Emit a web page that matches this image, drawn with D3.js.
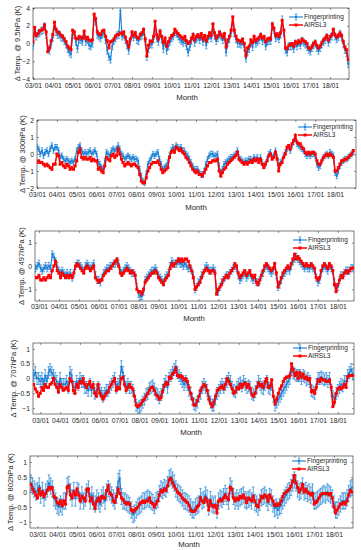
<!DOCTYPE html>
<html>
<head>
<meta charset="utf-8">
<script src="https://cdn.jsdelivr.net/npm/d3@7"></script>
<style>
  body { margin: 0; background: #fff; }
  svg { display: block; font-family: "Liberation Sans", Arial, sans-serif; }
</style>
</head>
<body>
<svg id="chart" width="361" height="550"></svg>
<script>
'use strict';

/**
 * Monthly temperature anomalies (K).
 * fp* = Fingerprinting (blue, error bars), airs* = AIRSL3 (red)
 */
const fp95 = [
  -0.3, 1.5, 0.8, 1.1, 1.2, 1.4, 1.5, 1.9, 1.0, -0.6, -0.8, -0.1,
  0.7, 2.0, 1.3, 1.0, 1.0, 0.7, 0.6, 0.3, -0.1, -0.6, -1.0, -1.2,
  1.0, 1.0, 0.2, -0.6, 0.5, 0.4, 0.2, 1.0, 0.2, 0.4, -0.2, -0.3,
  0.0, 3.0, 2.5, 1.0, 0.8, 0.6, 1.0, 1.2, 0.4, -0.8, -1.5, -1.8,
  -0.3, 0.3, 0.6, 0.9, 1.0, 3.7, 0.8, 1.0, 0.4, -0.2, -0.8, 0.2,
  1.0, 0.7, 1.0, 0.4, 0.3, 0.8, 0.9, 1.3, 0.2, -1.5, -0.6, -0.1,
  -0.1, 0.5, 2.1, 0.6, 0.2, 1.2, 0.5, -0.6, 0.3, -0.8, -0.3, 0.2,
  0.6, 0.8, 1.3, 1.1, 0.8, 0.5, 0.3, 0.1, 0.4, -0.3, -1.0, -0.4,
  0.3, 0.8, 0.1, 0.5, 0.7, 0.4, 0.8, 0.2, 0.6, -0.2, 0.5, 0.9,
  0.6, 1.9, 0.9, 0.3, 0.6, 1.0, 0.8, 0.4, 0.8, -1.0, 0.1, 0.5,
  1.2, 2.6, 1.2, 0.5, 0.0, 0.0, -0.1, 0.2, -0.4, -1.7, -0.9, -0.6,
  0.1, -0.4, 0.5, 0.0, 0.2, 0.4, 0.8, 0.3, 0.5, -0.3, 0.2, 0.3,
  0.3, 2.0, 1.5, 0.6, 0.8, 0.5, 1.0, 2.7, 1.2, -0.7, -1.0, -0.3,
  -0.3, -0.3, -0.6, 0.0, -0.3, 0.1, -0.2, 0.3, 0.1, -0.1, -0.4, -0.7,
  -0.9, -0.5, -0.2, 0.0, -0.5, -0.8, -0.5, -0.1, 0.2, 0.4, 0.7, 0.1,
  0.5, 0.8, 1.3, 0.8, 0.5, 0.7, 1.1, 0.7, 0.0, -0.7, -1.1, -2.3
];
const airs95 = [
  0.2, 1.8, 0.9, 1.1, 1.4, 1.5, 1.6, 2.1, 1.3, -0.9, -0.5, 0.3,
  1.0, 2.4, 1.6, 1.3, 1.2, 0.9, 0.8, 0.5, 0.2, -0.3, -0.5, -0.7,
  1.5, 1.3, 0.6, 0.5, 0.8, 0.7, 0.6, 1.4, 0.5, 0.7, 0.4, 0.3,
  0.4, 3.3, 2.8, 1.3, 1.1, 1.0, 1.4, 1.5, 0.8, 0.3, -0.5, 0.2,
  0.3, 0.5, 0.8, 1.0, 1.0, 1.2, 1.1, 1.3, 0.7, 0.2, -0.4, 0.5,
  1.3, 0.9, 1.2, 0.7, 0.6, 1.0, 1.2, 1.6, 0.5, -1.4, -0.2, 0.3,
  0.2, 0.8, 2.5, 1.0, 0.5, 1.4, 0.8, 0.1, 0.6, -0.3, 0.2, 0.6,
  0.9, 1.0, 1.6, 1.3, 1.1, 0.9, 0.7, 0.5, 0.8, 0.3, 0.0, 0.2,
  0.6, 1.0, 0.4, 0.8, 1.0, 0.7, 1.1, 0.5, 0.9, 0.3, 0.8, 1.2,
  0.9, 2.2, 1.2, 0.6, 0.9, 1.3, 1.0, 0.7, 1.1, -0.4, 0.4, 0.8,
  1.5, 3.0, 1.5, 0.8, 0.4, 0.3, 0.2, 0.5, 0.0, -1.4, -0.5, -0.3,
  0.4, 0.1, 0.8, 0.3, 0.5, 0.7, 1.0, 0.6, 0.8, 0.2, 0.5, 0.6,
  0.5, 2.2, 1.7, 0.9, 1.1, 0.8, 1.2, 2.6, 1.5, -0.5, -0.6, -0.2,
  -0.1, 0.0, -0.3, 0.2, 0.0, 0.3, 0.1, 0.5, 0.3, 0.2, 0.0, -0.5,
  -0.6, -0.3, 0.0, 0.2, -0.2, -0.5, -0.3, 0.1, 0.4, 0.6, 0.9, 0.4,
  0.8, 1.0, 1.6, 1.0, 0.7, 0.9, 1.2, 0.9, 0.2, -0.4, -0.7, -1.8
];

const fp300 = [
  0.4, 0.3, 0.0, 0.2, -0.1, 0.1, 0.2, 0.0, 0.3, 0.5, 0.2, 0.4,
  0.4, 0.2, -0.2, -0.1, -0.3, -0.4, -0.3, -0.4, -0.5, -0.4, -0.5, -0.3,
  0.2, 0.4, 0.5, 0.2, 0.0, 0.1, 0.0, 0.1, 0.2, 0.0, 0.1, 0.2,
  0.0, -0.5, -0.6, -0.8, -0.9, -0.4, 0.1, 0.0, -0.1, 0.2, 0.3, 0.2,
  0.3, 0.5, 0.3, 0.0, -0.1, -0.3, -0.2, -0.1, -0.2, -0.3, -0.2, -0.3,
  -0.3, -0.4, -0.9, -1.3, -1.6, -1.7, -1.2, -0.6, -0.4, -0.2, 0.0, -0.1,
  0.0, 0.1, -0.3, -0.6, -0.9, -0.8, -0.7, -0.5, -0.1, 0.2, 0.4, 0.3,
  0.5, 0.4, 0.3, 0.4, 0.2, 0.2, 0.0, -0.1, -0.3, -0.5, -0.7, -0.9,
  -0.9, -0.9, -1.1, -1.2, -1.2, -1.0, -0.6, -0.3, -0.1, 0.0, 0.0, -0.1,
  -0.1, 0.0, -0.7, -1.1, -0.9, -0.6, -0.5, -0.4, -0.3, -0.2, -0.2, -0.1,
  0.0, 0.2, -0.2, -0.3, -0.4, -0.5, -0.4, -0.4, -0.3, -0.3, -0.4, -0.2,
  -0.3, -0.2, -0.4, -0.2, -0.5, -0.7, -0.6, -0.3, 0.0, 0.1, -0.2, -0.1,
  0.2, -0.2, -0.7, -0.5, -0.4, -0.1, 0.1, 0.3, 0.4, 0.2, 0.5, 0.7,
  0.9, 0.6, 0.5, 0.4, 0.3, 0.2, 0.0, -0.1, 0.0, -0.1, 0.0, 0.0,
  -0.1, -0.6, -0.8, -0.7, -0.4, -0.2, -0.1, 0.0, -0.1, 0.1, 0.0, -0.1,
  -1.1, -1.3, -1.0, -0.7, -0.5, -0.4, -0.3, -0.3, -0.2, -0.1, 0.0, 0.1
];
const airs300 = [
  -0.5, -0.4, -0.5, -0.5, -0.6, -0.7, -0.6, -0.7, -0.8, -0.9, -0.6, -0.6,
  0.0, -0.1, -0.6, -0.5, -0.7, -0.8, -0.6, -0.7, -0.9, -0.8, -0.9, -0.7,
  -0.4, 0.1, 0.3, -0.2, -0.3, -0.2, -0.3, -0.3, -0.2, -0.4, -0.3, -0.4,
  -0.4, -0.9, -0.8, -1.0, -1.1, -0.7, -0.2, -0.3, -0.4, -0.1, 0.0, -0.2,
  -0.1, 0.3, 0.0, -0.3, -0.5, -0.7, -0.6, -0.5, -0.6, -0.7, -0.6, -0.6,
  -0.7, -0.8, -1.2, -1.6, -1.7, -1.7, -1.4, -1.0, -0.8, -0.6, -0.5, -0.5,
  -0.5, -0.4, -0.6, -0.9, -1.1, -1.0, -0.9, -0.8, -0.2, 0.1, 0.2, 0.1,
  0.4, 0.3, 0.2, 0.3, 0.1, 0.0, -0.2, -0.3, -0.5, -0.7, -0.9, -1.0,
  -1.1, -1.0, -1.2, -1.2, -1.3, -1.1, -0.9, -0.7, -0.5, -0.5, -0.4, -0.4,
  -0.4, -0.3, -1.0, -1.3, -1.1, -0.9, -0.8, -0.6, -0.5, -0.4, -0.3, -0.2,
  -0.1, 0.1, -0.3, -0.4, -0.5, -0.6, -0.5, -0.6, -0.5, -0.4, -0.5, -0.3,
  -0.4, -0.3, -0.5, -0.3, -0.6, -0.8, -0.6, -0.4, -0.1, 0.0, -0.3, -0.2,
  0.1, -0.3, -1.0, -0.6, -0.5, -0.2, 0.0, 0.4, 0.5, 0.3, 0.6, 0.8,
  1.1, 0.7, 0.6, 0.6, 0.4, 0.3, 0.1, 0.0, 0.1, 0.0, 0.1, 0.1,
  0.0, -0.4, -0.6, -0.6, -0.4, -0.2, -0.1, 0.0, -0.1, 0.0, -0.1, -0.2,
  -1.0, -1.0, -0.8, -0.6, -0.4, -0.4, -0.3, -0.3, -0.2, -0.1, 0.0, 0.2
];

const fp497 = [
  -0.1, 0.0, 0.1, -0.1, -0.2, -0.1, 0.0, -0.1, 0.0, -0.1, 0.5, 0.4,
  0.2, 0.0, -0.2, -0.3, -0.2, -0.3, -0.4, -0.3, -0.4, -0.3, -0.5, -0.3,
  0.0, 0.1, 0.1, 0.0, -0.1, -0.2, 0.0, 0.1, 0.0, -0.1, 0.0, 0.1,
  -0.4, -0.6, -0.6, -0.7, -0.5, -0.3, -0.2, -0.1, -0.1, 0.0, 0.0, 0.1,
  0.1, 0.2, 0.1, -0.2, -0.3, -0.2, -0.1, 0.0, -0.1, -0.2, -0.3, -0.3,
  -0.4, -0.9, -1.2, -1.3, -1.3, -1.1, -0.6, -0.5, -0.4, -0.3, -0.2, -0.2,
  -0.1, -0.2, -0.4, -0.5, -0.6, -0.7, -0.5, -0.4, -0.3, 0.0, 0.2, 0.1,
  0.1, 0.1, 0.2, 0.1, 0.1, 0.0, 0.1, 0.0, -0.1, -0.1, -0.2, -0.4,
  -1.0, -0.9, -0.7, -0.6, -0.4, -0.3, -0.1, 0.0, -0.1, -0.2, -0.2, -0.1,
  -0.2, -1.1, -1.1, -0.9, -0.7, -0.6, -0.5, -0.4, -0.4, -0.3, -0.2, -0.1,
  0.0, -0.1, -0.4, -0.6, -0.5, -0.4, -0.3, -0.5, -0.4, -0.3, -0.5, -0.6,
  -0.5, -0.7, -0.7, -0.6, -0.4, -0.3, -0.1, 0.0, -0.1, -0.2, -0.3, -0.2,
  0.0, -0.4, -0.9, -0.8, -0.6, -0.4, -0.3, -0.2, -0.1, -0.2, 0.0, 0.2,
  0.3, 0.4, 0.3, 0.2, 0.1, 0.0, -0.1, 0.0, -0.1, -0.1, 0.0, -0.1,
  -0.2, -0.5, -0.7, -0.6, -0.3, -0.1, 0.0, -0.1, -0.2, 0.0, -0.1, -0.2,
  -0.7, -0.9, -0.9, -0.6, -0.4, -0.4, -0.3, -0.2, -0.2, -0.2, -0.1, -0.1
];
const airs497 = [
  -0.5, -0.5, -0.4, -0.6, -0.6, -0.5, -0.6, -0.5, -0.4, -0.5, -0.2, 0.0,
  0.2, -0.2, -0.3, -0.5, -0.3, -0.4, -0.5, -0.4, -0.5, -0.4, -0.5, -0.3,
  0.0, 0.1, 0.0, -0.1, -0.2, -0.3, -0.1, 0.0, -0.1, -0.2, -0.1, 0.0,
  -0.5, -0.6, -0.7, -0.6, -0.6, -0.4, -0.3, -0.2, -0.2, -0.1, 0.0, 0.1,
  0.2, 0.3, 0.0, -0.3, -0.4, -0.3, -0.2, -0.1, -0.2, -0.3, -0.2, -0.3,
  -0.4, -1.0, -1.1, -1.1, -1.2, -1.0, -0.7, -0.6, -0.5, -0.4, -0.3, -0.3,
  -0.2, -0.3, -0.5, -0.6, -0.7, -0.8, -0.6, -0.5, -0.4, -0.1, 0.1, 0.0,
  0.1, 0.2, 0.3, 0.2, 0.3, 0.2, 0.3, 0.3, 0.2, 0.0, -0.2, -0.5,
  -1.0, -0.9, -0.8, -0.7, -0.5, -0.3, -0.2, -0.1, -0.2, -0.3, -0.2, -0.2,
  -0.3, -1.2, -1.0, -0.9, -0.8, -0.6, -0.5, -0.4, -0.5, -0.3, -0.2, -0.1,
  0.1, 0.0, -0.3, -0.5, -0.4, -0.3, -0.2, -0.4, -0.3, -0.2, -0.4, -0.5,
  -0.4, -0.7, -0.8, -0.6, -0.4, -0.2, 0.0, 0.1, 0.0, -0.1, -0.2, -0.1,
  0.1, -0.3, -0.9, -0.7, -0.5, -0.3, -0.2, -0.1, 0.0, -0.1, 0.1, 0.3,
  0.5, 0.3, 0.4, 0.3, 0.2, 0.1, 0.0, 0.1, 0.0, 0.0, 0.1, 0.0,
  -0.1, -0.5, -0.6, -0.5, -0.2, 0.0, 0.1, 0.0, -0.1, 0.1, 0.0, -0.2,
  -0.8, -1.1, -0.8, -0.6, -0.4, -0.5, -0.3, -0.2, -0.3, -0.2, -0.1, -0.1
];

const fp707 = [
  0.1, 0.2, 0.0, 0.0, -0.1, 0.0, -0.2, 0.1, -0.1, 0.2, 0.3, 0.2,
  0.1, 0.0, -0.1, -0.3, 0.0, -0.2, -0.2, -0.2, -0.1, -0.3, 0.2, 0.1,
  -0.3, -0.3, -0.1, -0.2, 0.0, -0.1, -0.1, -0.3, -0.3, -0.4, -0.2, -0.4,
  -0.3, -0.5, -0.4, -0.3, -0.4, -0.5, -0.6, -0.5, -0.4, -0.4, -0.3, -0.2,
  -0.1, 0.0, -0.3, -0.2, -0.1, 0.4, 0.2, -0.1, -0.3, -0.2, -0.3, -0.3,
  -0.4, -0.6, -0.9, -1.0, -0.95, -0.9, -0.8, -0.7, -0.55, -0.5, -0.35, -0.3,
  -0.25, -0.35, -0.5, -0.55, -0.65, -0.55, -0.4, -0.2, -0.1, -0.3, 0.0, 0.1,
  0.2, 0.3, 0.4, 0.2, 0.1, 0.0, -0.1, -0.2, -0.1, -0.2, -0.4, -0.5,
  -0.7, -0.85, -0.9, -0.8, -0.6, -0.5, -0.3, -0.2, -0.3, -0.4, -0.6, -0.8,
  -0.9, -0.9, -0.7, -0.5, -0.4, -0.3, -0.2, -0.3, -0.2, -0.1, 0.0, -0.1,
  -0.3, -0.4, -0.45, -0.3, -0.2, -0.15, -0.25, -0.1, -0.2, -0.3, -0.25, -0.3,
  -0.5, -0.55, -0.45, -0.3, -0.1, -0.2, -0.3, -0.35, -0.2, -0.1, -0.3, -0.35,
  -0.2, -0.6, -0.9, -0.8, -0.7, -0.6, -0.5, -0.4, -0.3, -0.2, -0.1, 0.0,
  0.3, 0.2, 0.15, 0.1, 0.1, 0.1, 0.0, 0.1, 0.05, -0.05, 0.0, -0.1,
  -0.4, -0.45, -0.5, -0.2, 0.0, 0.0, 0.05, 0.0, -0.05, 0.0, -0.1, 0.0,
  -0.4, -0.6, -0.7, -0.5, -0.4, -0.3, -0.2, -0.25, -0.1, -0.1, 0.1, 0.2,
  0.3, 0.15
];
const airs707 = [
  -0.2, -0.35, -0.45, -0.6, -0.5, -0.3, -0.4, -0.2, -0.3, -0.3, -0.2, -0.15,
  0.0, -0.2, -0.3, -0.45, -0.2, -0.3, -0.4, -0.35, -0.3, -0.4, 0.0, -0.1,
  -0.4, -0.5, -0.2, -0.3, -0.1, -0.15, 0.0, -0.2, -0.3, -0.2, -0.1, -0.3,
  -0.2, -0.5, -0.6, -0.2, -0.5, -0.6, -0.7, -0.6, -0.5, -0.45, -0.3, -0.2,
  -0.1, 0.0, -0.4, -0.3, -0.35, 0.0, 0.05, -0.2, -0.4, -0.3, -0.2, -0.3,
  -0.35, -0.6, -0.9, -0.95, -0.9, -0.85, -0.75, -0.7, -0.6, -0.5, -0.4, -0.3,
  -0.3, -0.4, -0.55, -0.6, -0.7, -0.65, -0.45, -0.25, -0.15, -0.2, 0.05, 0.0,
  0.15, 0.2, 0.35, 0.1, 0.05, 0.1, 0.05, -0.05, 0.0, -0.1, -0.3, -0.5,
  -0.7, -0.9, -0.9, -0.75, -0.6, -0.4, -0.3, -0.2, -0.25, -0.4, -0.7, -0.85,
  -0.95, -0.8, -0.6, -0.4, -0.35, -0.3, -0.25, -0.35, -0.2, 0.0, -0.1, -0.2,
  -0.35, -0.5, -0.45, -0.3, -0.35, -0.2, -0.3, -0.2, -0.15, -0.3, -0.2, -0.35,
  -0.55, -0.6, -0.5, -0.3, -0.15, -0.25, -0.2, -0.3, -0.1, 0.0, -0.3, -0.25,
  -0.05, -0.6, -0.85, -0.7, -0.5, -0.35, -0.25, -0.1, 0.0, 0.05, 0.05, 0.1,
  0.5, 0.3, 0.1, 0.2, 0.0, 0.2, 0.05, 0.15, 0.0, 0.05, -0.05, 0.0,
  -0.45, -0.4, -0.5, -0.3, -0.05, -0.1, 0.0, -0.05, -0.05, -0.1, -0.1, -0.05,
  -0.3, -0.95, -0.8, -0.5, -0.35, -0.3, -0.35, -0.3, -0.2, -0.3, 0.05, 0.1,
  0.1, 0.1
];

const fp802 = [
  0.3, 0.2, 0.1, 0.0, 0.05, 0.2, -0.1, 0.05, -0.2, 0.0, 0.1, 0.3,
  0.2, 0.1, -0.2, -0.3, -0.45, -0.5, -0.4, -0.5, -0.3, -0.3, 0.2, 0.25,
  0.0, -0.2, 0.05, -0.2, 0.05, 0.0, -0.3, -0.1, -0.3, -0.2, 0.0, 0.1,
  -0.3, -0.1, -0.3, -0.4, -0.2, -0.3, -0.4, -0.2, -0.1, -0.3, 0.0, 0.1,
  0.0, -0.1, -0.2, -0.3, -0.1, 0.35, 0.45, -0.15, -0.3, -0.3, -0.35, -0.4,
  -0.45, -0.6, -0.75, -0.7, -0.6, -0.5, -0.45, -0.4, -0.3, -0.3, -0.25, -0.2,
  -0.25, -0.3, -0.35, -0.45, -0.3, -0.25, -0.05, 0.1, 0.05, 0.15, 0.1, 0.25,
  0.45, 0.5, 0.4, 0.3, 0.1, 0.0, -0.05, -0.1, -0.2, -0.3, -0.3, -0.35,
  -0.4, -0.5, -0.6, -0.6, -0.5, -0.45, -0.4, -0.15, -0.3, -0.25, -0.1, -0.2,
  -0.5, -0.25, -0.4, -0.45, -0.4, -0.6, -0.3, -0.2, -0.25, -0.15, -0.05, -0.15,
  -0.3, 0.2, 0.1, -0.15, -0.3, -0.2, -0.3, -0.2, -0.15, -0.1, -0.25, -0.3,
  -0.25, -0.2, -0.3, -0.1, -0.35, -0.4, -0.5, -0.35, -0.2, -0.15, -0.1, -0.2,
  -0.35, -0.15, -0.2, -0.4, -0.55, -0.5, -0.6, -0.5, -0.45, -0.3, -0.2, -0.1,
  0.0, 0.05, 0.15, 0.3, 0.4, 0.3, 0.1, 0.0, 0.05, 0.2, 0.0, 0.05,
  -0.05, 0.0, -0.1, 0.0, -0.3, -0.3, -0.25, -0.2, -0.15, -0.1, -0.05, -0.1,
  0.0, -0.05, -0.1, -0.2, -0.4, -0.6, -0.6, -0.5, -0.4, -0.3, -0.3, -0.3,
  -0.2, -0.05, 0.1, 0.15
];
const airs802 = [
  0.25, 0.1, 0.0, -0.1, -0.2, 0.1, -0.1, 0.0, -0.15, -0.05, 0.05, 0.15,
  0.1, 0.15, -0.15, -0.2, -0.35, -0.4, -0.3, -0.45, -0.3, -0.4, 0.15, 0.2,
  -0.1, -0.2, 0.0, -0.1, 0.1, -0.1, -0.3, -0.15, -0.2, -0.3, 0.1, 0.1,
  -0.3, -0.2, -0.4, -0.55, -0.3, -0.2, -0.3, -0.15, -0.2, -0.2, 0.05, 0.2,
  -0.05, -0.1, -0.3, -0.35, -0.15, 0.1, -0.05, -0.2, -0.25, -0.35, -0.4, -0.35,
  -0.4, -0.6, -0.65, -0.6, -0.55, -0.5, -0.4, -0.35, -0.3, -0.35, -0.3, -0.3,
  -0.2, -0.35, -0.4, -0.5, -0.4, -0.3, -0.1, 0.05, 0.0, 0.1, 0.05, 0.2,
  0.4, 0.45, 0.3, 0.2, 0.1, 0.0, -0.05, -0.1, -0.2, -0.25, -0.3, -0.35,
  -0.45, -0.6, -0.65, -0.65, -0.6, -0.5, -0.45, -0.2, -0.3, -0.35, -0.2, -0.3,
  -0.6, -0.3, -0.45, -0.5, -0.45, -0.7, -0.3, -0.25, -0.3, -0.2, -0.1, -0.2,
  -0.25, 0.15, 0.1, -0.2, -0.3, -0.2, -0.25, -0.15, -0.2, -0.1, -0.2, -0.35,
  -0.2, -0.25, -0.3, -0.15, -0.3, -0.45, -0.5, -0.3, -0.15, -0.2, -0.1, -0.15,
  -0.3, -0.1, -0.2, -0.3, -0.45, -0.4, -0.45, -0.4, -0.3, -0.15, -0.05, 0.0,
  0.05, 0.1, 0.2, 0.35, 0.55, 0.3, 0.15, 0.0, 0.1, 0.25, 0.0, 0.1,
  0.0, -0.05, -0.1, -0.05, -0.4, -0.35, -0.3, -0.2, -0.1, -0.05, -0.05, -0.05,
  -0.05, -0.1, -0.05, -0.2, -0.5, -0.7, -0.6, -0.5, -0.4, -0.4, -0.35, -0.4,
  -0.3, -0.1, 0.05, 0.0
];

// half-length of the Fingerprinting error bars per level (K)
const errHalf = [0.4, 0.16, 0.15, 0.2, 0.27];
const levelNames = ['9.5hPa', '300hPa', '497hPa', '707hPa', '802hPa'];
const firstMonth = ['2003-01', '2003-01', '2002-11', '2002-09', '2002-09'];
const yTicks = [
  [-4, -2, 0, 2, 4],
  [-2, -1, 0, 1, 2],
  [-1, 0, 1],
  [-1, -0.5, 0, 0.5, 1],
  [-1, -0.5, 0, 0.5, 1]
];
const yDomains = [[-4, 4], [-2, 2], [-1.5, 1.5], [-1.2, 1.2], [-1.2, 1.2]];
const tickYears = [2003, 2004, 2005, 2006, 2007, 2008, 2009, 2010,
                   2011, 2012, 2013, 2014, 2015, 2016, 2017, 2018];
const seriesNames = ['Fingerprinting', 'AIRSL3'];

const fpSeries = [fp95, fp300, fp497, fp707, fp802];
const airsSeries = [airs95, airs300, airs497, airs707, airs802];

/**
 * Panel boxes (pixels) and time extent of each x axis
 */
const layout = [
  { left: 33, right: 349, top: 8,   bottom: 79,  t0: '2003-01-01', t1: '2018-12-15',
    tickPad: 4.5, monthY: 100, monthX: 187, ylabX: 17, legX: 289, legY: 17 },
  { left: 37, right: 356, top: 120, bottom: 188, t0: '2003-01-01', t1: '2019-01-20',
    tickPad: 4.5, monthY: 210, monthX: 196, ylabX: 22, legX: 298, legY: 127 },
  { left: 35, right: 354, top: 231, bottom: 301, t0: '2002-10-20', t1: '2018-10-25',
    tickPad: 3.5, monthY: 321, monthX: 194, ylabX: 21, legX: 293, legY: 240 },
  { left: 33, right: 354, top: 343, bottom: 414, t0: '2002-08-20', t1: '2018-10-25',
    tickPad: 4.5, monthY: 435, monthX: 191, ylabX: 13, legX: 293, legY: 348 },
  { left: 30, right: 353, top: 456, bottom: 528, t0: '2002-08-15', t1: '2018-12-20',
    tickPad: 4.5, monthY: 547, monthX: 189, ylabX: 10, legX: 292, legY: 461 }
];

const BLUE = '#1a7fd4';
const RED = '#ff0000';
const AXIS = '#262626';

const svg = d3.select('#chart');
const parseMonth = d3.timeParse('%Y-%m');
const parseDay = d3.timeParse('%Y-%m-%d');
const fmtTick = d3.timeFormat('%y/%m');

layout.forEach((p, i) => {
  const fp = fpSeries[i];
  const airs = airsSeries[i];
  const start = parseMonth(firstMonth[i]);
  const dates = fp.map((_, k) => d3.timeMonth.offset(start, k));
  const tickDates = tickYears.map(y => new Date(y, 0, 1));

  const x = d3.scaleTime()
    .domain([parseDay(p.t0), parseDay(p.t1)])
    .range([p.left, p.right]);
  const y = d3.scaleLinear()
    .domain(yDomains[i])
    .range([p.bottom, p.top]);

  const g = svg.append('g');

  g.append('clipPath')
    .attr('id', 'clip' + i)
    .append('rect')
    .attr('x', p.left).attr('y', p.top)
    .attr('width', p.right - p.left)
    .attr('height', p.bottom - p.top);

  /**
   * Axes: MATLAB-like box with inward ticks on all four sides
   */
  const styleAxis = sel => {
    sel.select('.domain').remove();
    sel.selectAll('line').attr('stroke', AXIS).attr('stroke-width', 0.5);
    sel.selectAll('text')
      .attr('fill', AXIS)
      .attr('font-size', 6.8)
      .attr('font-family', '"Liberation Sans", Arial, sans-serif');
  };

  g.append('g')
    .attr('transform', `translate(0,${p.bottom})`)
    .call(d3.axisBottom(x).tickValues(tickDates).tickFormat(fmtTick)
      .tickSizeInner(-2).tickSizeOuter(0).tickPadding(p.tickPad))
    .call(styleAxis);
  g.append('g')
    .attr('transform', `translate(0,${p.top})`)
    .call(d3.axisTop(x).tickValues(tickDates).tickFormat('')
      .tickSizeInner(-2).tickSizeOuter(0))
    .call(styleAxis);
  g.append('g')
    .attr('transform', `translate(${p.left},0)`)
    .call(d3.axisLeft(y).tickValues(yTicks[i]).tickFormat(d3.format('~g'))
      .tickSizeInner(-2).tickSizeOuter(0).tickPadding(3))
    .call(styleAxis);
  g.append('g')
    .attr('transform', `translate(${p.right},0)`)
    .call(d3.axisRight(y).tickValues(yTicks[i]).tickFormat('')
      .tickSizeInner(-2).tickSizeOuter(0))
    .call(styleAxis);

  g.append('rect')
    .attr('x', p.left).attr('y', p.top)
    .attr('width', p.right - p.left)
    .attr('height', p.bottom - p.top)
    .attr('fill', 'none')
    .attr('stroke', AXIS)
    .attr('stroke-width', 0.6);

  /**
   * Data: blue error bars + line, red squares + line on top
   */
  const plot = g.append('g').attr('clip-path', `url(#clip${i})`);
  const e = errHalf[i];
  const pts = fp.map((v, k) => ({ d: dates[k], v: v }));
  const red = airs.map((v, k) => ({ d: dates[k], v: v }));

  const bars = plot.append('g')
    .attr('stroke', BLUE)
    .attr('stroke-width', 0.7);
  bars.selectAll('line.eb')
    .data(pts)
    .join('line')
    .attr('class', 'eb')
    .attr('x1', d => x(d.d)).attr('x2', d => x(d.d))
    .attr('y1', d => y(d.v - e)).attr('y2', d => y(d.v + e));
  bars.selectAll('line.capTop')
    .data(pts)
    .join('line')
    .attr('class', 'capTop')
    .attr('x1', d => x(d.d) - 1.2).attr('x2', d => x(d.d) + 1.2)
    .attr('y1', d => y(d.v + e)).attr('y2', d => y(d.v + e));
  bars.selectAll('line.capBot')
    .data(pts)
    .join('line')
    .attr('class', 'capBot')
    .attr('x1', d => x(d.d) - 1.2).attr('x2', d => x(d.d) + 1.2)
    .attr('y1', d => y(d.v - e)).attr('y2', d => y(d.v - e));

  const line = d3.line().x(d => x(d.d)).y(d => y(d.v));

  plot.append('path')
    .datum(pts)
    .attr('d', line)
    .attr('fill', 'none')
    .attr('stroke', BLUE)
    .attr('stroke-width', 1.1);
  plot.append('g')
    .selectAll('circle')
    .data(pts)
    .join('circle')
    .attr('cx', d => x(d.d)).attr('cy', d => y(d.v))
    .attr('r', 1.1)
    .attr('fill', BLUE);

  plot.append('path')
    .datum(red)
    .attr('d', line)
    .attr('fill', 'none')
    .attr('stroke', RED)
    .attr('stroke-width', 1.5);
  plot.append('g')
    .selectAll('rect')
    .data(red)
    .join('rect')
    .attr('x', d => x(d.d) - 1.5).attr('y', d => y(d.v) - 1.5)
    .attr('width', 3).attr('height', 3)
    .attr('fill', RED);

  /**
   * Labels
   */
  g.append('text')
    .attr('x', p.monthX).attr('y', p.monthY)
    .attr('text-anchor', 'middle')
    .attr('font-size', 7.8)
    .attr('fill', AXIS)
    .text('Month');

  g.append('text')
    .attr('transform', `translate(${p.ylabX},${(p.top + p.bottom) / 2}) rotate(-90)`)
    .attr('text-anchor', 'middle')
    .attr('dy', '0.35em')
    .attr('font-size', 7.6)
    .attr('fill', AXIS)
    .text(`Δ Temp. @ ${levelNames[i]} (K)`);

  /**
   * Legend
   */
  const leg = g.append('g');
  const ly0 = p.legY, ly1 = p.legY + 8;
  const lxm = p.legX + 7;
  leg.append('line')
    .attr('x1', p.legX).attr('x2', p.legX + 14)
    .attr('y1', ly0).attr('y2', ly0)
    .attr('stroke', BLUE).attr('stroke-width', 1.1);
  leg.append('line')
    .attr('x1', lxm).attr('x2', lxm)
    .attr('y1', ly0 - 3).attr('y2', ly0 + 3)
    .attr('stroke', BLUE).attr('stroke-width', 0.7);
  [ly0 - 3, ly0 + 3].forEach(cy => {
    leg.append('line')
      .attr('x1', lxm - 1.3).attr('x2', lxm + 1.3)
      .attr('y1', cy).attr('y2', cy)
      .attr('stroke', BLUE).attr('stroke-width', 0.7);
  });
  leg.append('circle')
    .attr('cx', lxm).attr('cy', ly0).attr('r', 1.2)
    .attr('fill', BLUE);
  leg.append('line')
    .attr('x1', p.legX).attr('x2', p.legX + 14)
    .attr('y1', ly1).attr('y2', ly1)
    .attr('stroke', RED).attr('stroke-width', 1.5);
  leg.append('rect')
    .attr('x', lxm - 1.5).attr('y', ly1 - 1.5)
    .attr('width', 3).attr('height', 3)
    .attr('fill', RED);
  leg.selectAll('text')
    .data(seriesNames)
    .join('text')
    .attr('x', p.legX + 15)
    .attr('y', (d, j) => (j === 0 ? ly0 : ly1))
    .attr('dy', '0.35em')
    .attr('font-size', 6.5)
    .attr('fill', AXIS)
    .text(d => d);
});
</script>
</body>
</html>
